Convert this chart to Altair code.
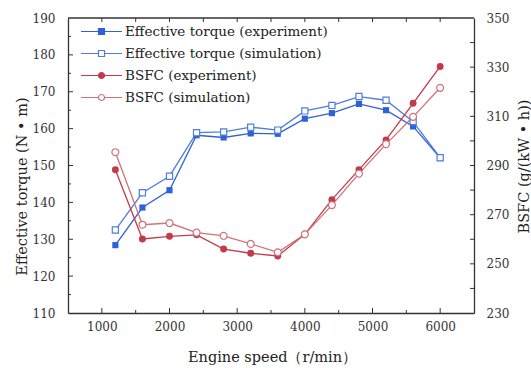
import altair as alt
import pandas as pd

speed = [1200, 1600, 2000, 2400, 2800, 3200, 3600, 4000, 4400, 4800, 5200, 5600, 6000]
torque_exp = [128.4, 138.6, 143.3, 158.2, 157.6, 158.7, 158.6, 162.7, 164.2, 166.7, 165.0, 160.6, 152.1]
torque_sim = [132.5, 142.6, 147.1, 158.9, 159.1, 160.4, 159.6, 164.8, 166.3, 168.7, 167.7, 161.9, 152.1]
bsfc_exp = [288.3, 260.1, 261.2, 261.8, 256.0, 254.3, 253.2, 262.0, 276.1, 288.3, 300.4, 315.3, 330.3]
bsfc_sim = [295.4, 265.9, 266.6, 262.7, 261.4, 258.1, 254.7, 262.0, 273.9, 286.7, 298.7, 309.8, 321.6]

series_names = ["Effective torque (experiment)", "Effective torque (simulation)",
                "BSFC (experiment)", "BSFC (simulation)"]

x_labels = [1000, 2000, 3000, 4000, 5000, 6000]
left_labels = [110, 120, 130, 140, 150, 160, 170, 180, 190]
right_labels = [230, 250, 270, 290, 310, 330, 350]

# tick positions (axis decorations)
x_major_ticks = [1000, 2000, 3000, 4000, 5000, 6000]
x_minor_ticks = [1500, 2500, 3500, 4500, 5500]
x_top_ticks = [1000, 1500, 2000, 2500, 3000, 3500, 4000, 4500, 5000, 5500, 6000]
left_major_ticks = [120, 130, 140, 150, 160, 170, 180]
left_minor_ticks = [115, 125, 135, 145, 155, 165, 175, 185]
right_ticks = [240, 250, 260, 270, 280, 290, 300, 310, 320, 330, 340]

C_TE = "#2f62d6"
C_TS = "#4f7edc"
C_BE = "#c23b4b"
C_BS = "#cf727b"

FONT = "DejaVu Serif"
AX = "#333333"

W, H = 406, 295

df = pd.DataFrame({"speed": speed, "te": torque_exp, "ts": torque_sim, "be": bsfc_exp, "bs": bsfc_sim})
long_df = pd.DataFrame({
    "speed": speed * 4,
    "value": torque_exp + torque_sim + bsfc_exp + bsfc_sim,
    "series": sum([[s] * len(speed) for s in series_names], []),
})

XD = [500, 6500]
TD = [110, 190]
BD = [230, 350]

xs = alt.Scale(domain=XD, nice=False, zero=False)


def ys(d):
    return alt.Scale(domain=d, nice=False, zero=False)


base = alt.Chart(df)

x_main = alt.Axis(orient="bottom", values=x_labels, ticks=False, format="d",
                  domain=True, domainColor=AX, domainWidth=1.3, grid=False,
                  labelFont=FONT, labelFontSize=12, labelColor=AX, labelPadding=8,
                  title="Engine speed（r/min）", titleFont=FONT, titleFontSize=14.5,
                  titleFontWeight="normal", titleColor="#222222", titleX=204, titleY=44,
                  titleBaseline="middle")
y_left_main = alt.Axis(orient="left", values=left_labels, ticks=False,
                       domain=True, domainColor=AX, domainWidth=1.3, grid=False, format="d",
                       labelFont=FONT, labelFontSize=12, labelColor=AX, labelPadding=13,
                       title="Effective torque (N • m)", titleFont=FONT, titleFontSize=14.5,
                       titleFontWeight="normal", titleColor="#222222", titleAngle=270,
                       titleX=-46, titleY=168, titleBaseline="middle", titleAlign="center")
y_right_main = alt.Axis(orient="right", values=right_labels, ticks=False,
                        domain=True, domainColor=AX, domainWidth=1.3, grid=False, format="d",
                        labelFont=FONT, labelFontSize=12, labelColor=AX, labelPadding=12,
                        title="BSFC (g/(kW • h))", titleFont=FONT, titleFontSize=14.5,
                        titleFontWeight="normal", titleColor="#222222", titleAngle=270,
                        titleX=50, titleY=148, titleBaseline="middle", titleAlign="center")


# inward tick marks, positioned along the axis through the chart's own scales
def x_ticks(vals, center, length):
    return alt.Chart(pd.DataFrame({"v": vals})).mark_tick(
        orient="vertical", color=AX, size=length, thickness=1, opacity=1).encode(
        x=alt.X("v:Q", scale=xs, axis=None), y=alt.value(center))


def y_ticks(vals, dom, center, length):
    return alt.Chart(pd.DataFrame({"v": vals})).mark_tick(
        orient="horizontal", color=AX, size=length, thickness=1, opacity=1).encode(
        y=alt.Y("v:Q", scale=ys(dom), axis=None), x=alt.value(center))


t_bottom_major = x_ticks(x_major_ticks, H - 2.5, 5)
t_bottom_minor = x_ticks(x_minor_ticks, H - 1.5, 3)
t_top = x_ticks(x_top_ticks, 2, 4)
t_left_major = y_ticks(left_major_ticks, TD, 2.5, 5)
t_left_minor = y_ticks(left_minor_ticks, TD, 1.5, 3)
t_right = y_ticks(right_ticks, BD, W - 2, 4)
top_frame = alt.Chart(pd.DataFrame({"a": [0]})).mark_rect(color=AX, opacity=1).encode(
    x=alt.value(0), x2=alt.value(W), y=alt.value(-0.65), y2=alt.value(0.65))

# lines
l_te = base.mark_line(color=C_TE, strokeWidth=1.3).encode(
    x=alt.X("speed:Q", scale=xs, axis=x_main),
    y=alt.Y("te:Q", scale=ys(TD), axis=y_left_main))
l_ts = base.mark_line(color=C_TS, strokeWidth=1.3).encode(
    x=alt.X("speed:Q", scale=xs, axis=None),
    y=alt.Y("ts:Q", scale=ys(TD), axis=None))
l_be = base.mark_line(color=C_BE, strokeWidth=1.3).encode(
    x=alt.X("speed:Q", scale=xs, axis=None),
    y=alt.Y("be:Q", scale=ys(BD), axis=y_right_main))
l_bs = base.mark_line(color=C_BS, strokeWidth=1.3).encode(
    x=alt.X("speed:Q", scale=xs, axis=None),
    y=alt.Y("bs:Q", scale=ys(BD), axis=None))

# markers
p_te = base.mark_point(shape="square", filled=True, color=C_TE, size=38, opacity=1).encode(
    x=alt.X("speed:Q", scale=xs, axis=None),
    y=alt.Y("te:Q", scale=ys(TD), axis=None))
p_ts = base.mark_point(shape="square", filled=False, fill="white", stroke=C_TS, strokeWidth=1.2,
                       size=38, opacity=1).encode(
    x=alt.X("speed:Q", scale=xs, axis=None),
    y=alt.Y("ts:Q", scale=ys(TD), axis=None))
p_be = base.mark_point(shape="circle", filled=True, color=C_BE, size=48, opacity=1).encode(
    x=alt.X("speed:Q", scale=xs, axis=None),
    y=alt.Y("be:Q", scale=ys(BD), axis=None))
p_bs = base.mark_point(shape="circle", filled=False, fill="white", stroke=C_BS, strokeWidth=1.2,
                       size=48, opacity=1).encode(
    x=alt.X("speed:Q", scale=xs, axis=None),
    y=alt.Y("bs:Q", scale=ys(BD), axis=None))

# legend (invisible points; legend symbols = line + marker)
sq_filled = "M-3.2,0H3.2M-0.47,-0.47H0.47V0.47H-0.47Z"
sq_open = "M-3.2,0H-0.47M0.47,0H3.2M-0.47,-0.47H0.47V0.47H-0.47Z"
c_filled = "M-3.2,0H3.2M0.47,0A0.47,0.47 0 1,1 -0.47,0A0.47,0.47 0 1,1 0.47,0Z"
c_open = "M-3.2,0H-0.47M0.47,0H3.2M0.47,0A0.47,0.47 0 1,1 -0.47,0A0.47,0.47 0 1,1 0.47,0Z"

leg = alt.Legend(orient="none", legendX=26, legendY=6, title=None, padding=0,
                 labelFont=FONT, labelFontSize=13.5, labelColor="#222222", labelOffset=16,
                 symbolSize=164, symbolStrokeWidth=1.2, symbolOpacity=1, rowPadding=8,
                 labelLimit=400)
legend_layer = alt.Chart(long_df).mark_point(opacity=0, clip=True, filled=False).encode(
    x=alt.X("speed:Q", scale=xs, axis=None),
    y=alt.Y("value:Q", scale=alt.Scale(domain=[0, 400]), axis=None),
    stroke=alt.Stroke("series:N", sort=series_names,
                      scale=alt.Scale(domain=series_names, range=[C_TE, C_TS, C_BE, C_BS]), legend=leg),
    fill=alt.Fill("series:N", sort=series_names,
                  scale=alt.Scale(domain=series_names, range=[C_TE, "white", C_BE, "white"]), legend=leg),
    shape=alt.Shape("series:N", sort=series_names,
                    scale=alt.Scale(domain=series_names, range=[sq_filled, sq_open, c_filled, c_open]),
                    legend=leg),
)

chart = alt.layer(
    l_te, l_ts, l_be, l_bs,
    t_bottom_major, t_bottom_minor, t_top, t_left_major, t_left_minor, t_right, top_frame,
    p_te, p_ts, p_be, p_bs, legend_layer
).resolve_scale(y="independent").resolve_axis(x="independent", y="independent").properties(
    width=W, height=H,
    autosize=alt.AutoSizeParams(type="none"),
    padding={"left": 68, "top": 18, "right": 57, "bottom": 55},
).configure(background="white").configure_view(stroke=None)

chart.save("out.html", embed_options={"renderer": "svg", "actions": False})
